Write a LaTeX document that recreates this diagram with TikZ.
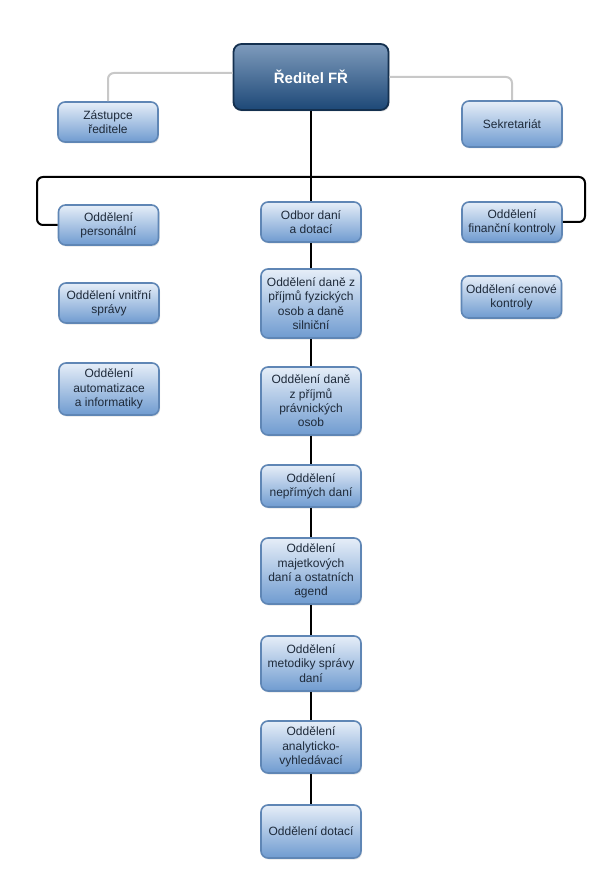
\documentclass[tikz,border=0pt]{standalone}
\usepackage{fontspec}
\setmainfont{Liberation Sans}
\usetikzlibrary{shadows}
\definecolor{boxtop}{HTML}{E6EEF8}
\definecolor{boxbot}{HTML}{6F9BD0}
\definecolor{boxedge}{HTML}{5F86B5}
\definecolor{dirtop}{HTML}{7E9BBC}
\definecolor{dirbot}{HTML}{1D4877}
\definecolor{diredge}{HTML}{14304F}
\definecolor{txt}{HTML}{1E2A3A}
\definecolor{grayline}{HTML}{C8C8C8}
\begin{document}
\begin{tikzpicture}[x=1pt,y=-1pt,
  box/.style={draw=boxedge, line width=1.6pt, rounded corners=7pt,
    top color=boxtop, bottom color=boxbot, align=center, text=txt,
    minimum width=100pt, inner sep=1pt,
    font=\fontsize{12}{14.3}\selectfont,
    drop shadow={opacity=0.2, shadow xshift=1pt, shadow yshift=-1.5pt}},
  dirbox/.style={draw=diredge, line width=1.8pt, rounded corners=8pt,
    top color=dirtop, bottom color=dirbot, align=center, text=white,
    minimum width=155pt, minimum height=66pt,
    font=\fontsize{15}{17}\selectfont\bfseries,
    drop shadow={opacity=0.25, shadow xshift=1pt, shadow yshift=-1.5pt}},
  link/.style={line width=2pt, black, rounded corners=6pt},
  glink/.style={line width=2pt, grayline, rounded corners=6pt}]
\useasboundingbox (0,0) rectangle (604,877);
\fill[white] (0,0) rectangle (604,877);

\node[dirbox] (dir) at (311,77) {Ředitel FŘ};
\node[box, minimum height=40pt] (zast) at (108,122) {Zástupce\\ředitele};
\node[box, minimum height=46pt] (sekr) at (512,124) {Sekretariát};

\node[box, minimum height=40pt] (pers) at (108.5,225) {Oddělení\\personální};
\node[box, minimum height=40pt] (odbor) at (311,222) {Odbor daní\\a dotací};
\node[box, minimum height=40pt] (fin) at (512,222) {Oddělení\\finanční kontroly};

\node[box, minimum height=40pt] (vnit) at (109,303) {Oddělení vnitřní\\správy};
\node[box, minimum height=52pt] (auto) at (109,389) {Oddělení\\automatizace\\a informatiky};
\node[box, minimum height=42pt] (cen) at (511.5,297) {Oddělení cenové\\kontroly};

\node[box, minimum height=69pt] (fyz) at (311,303.5) {Oddělení daně z\\příjmů fyzických\\osob a daně\\silniční};
\node[box, minimum height=68pt] (prav) at (311,401) {Oddělení daně\\z příjmů\\právnických\\osob};
\node[box, minimum height=42pt] (neprim) at (311,486) {Oddělení\\nepřímých daní};
\node[box, minimum height=66pt] (majet) at (311,571) {Oddělení\\majetkových\\daní a ostatních\\agend};
\node[box, minimum height=55pt] (metod) at (311,663.5) {Oddělení\\metodiky správy\\daní};
\node[box, minimum height=52pt] (analyt) at (311,747) {Oddělení\\analyticko-\\vyhledávací};
\node[box, minimum height=53pt] (dotaci) at (311,831.5) {Oddělení dotací};

\coordinate (bl) at (37,177);
\coordinate (br) at (585,177);

\draw[glink] ([yshift=4pt]dir.west) -| (zast.north);
\draw[glink] (dir.east) -| (sekr.north);
\draw[link] (dir.south) -- (odbor.north);
\draw[link] (pers.west) -| (bl) -- (br) |- (fin.east);
\draw[link] (odbor) -- (fyz) -- (prav) -- (neprim) -- (majet) -- (metod) -- (analyt) -- (dotaci);
\end{tikzpicture}
\end{document}
